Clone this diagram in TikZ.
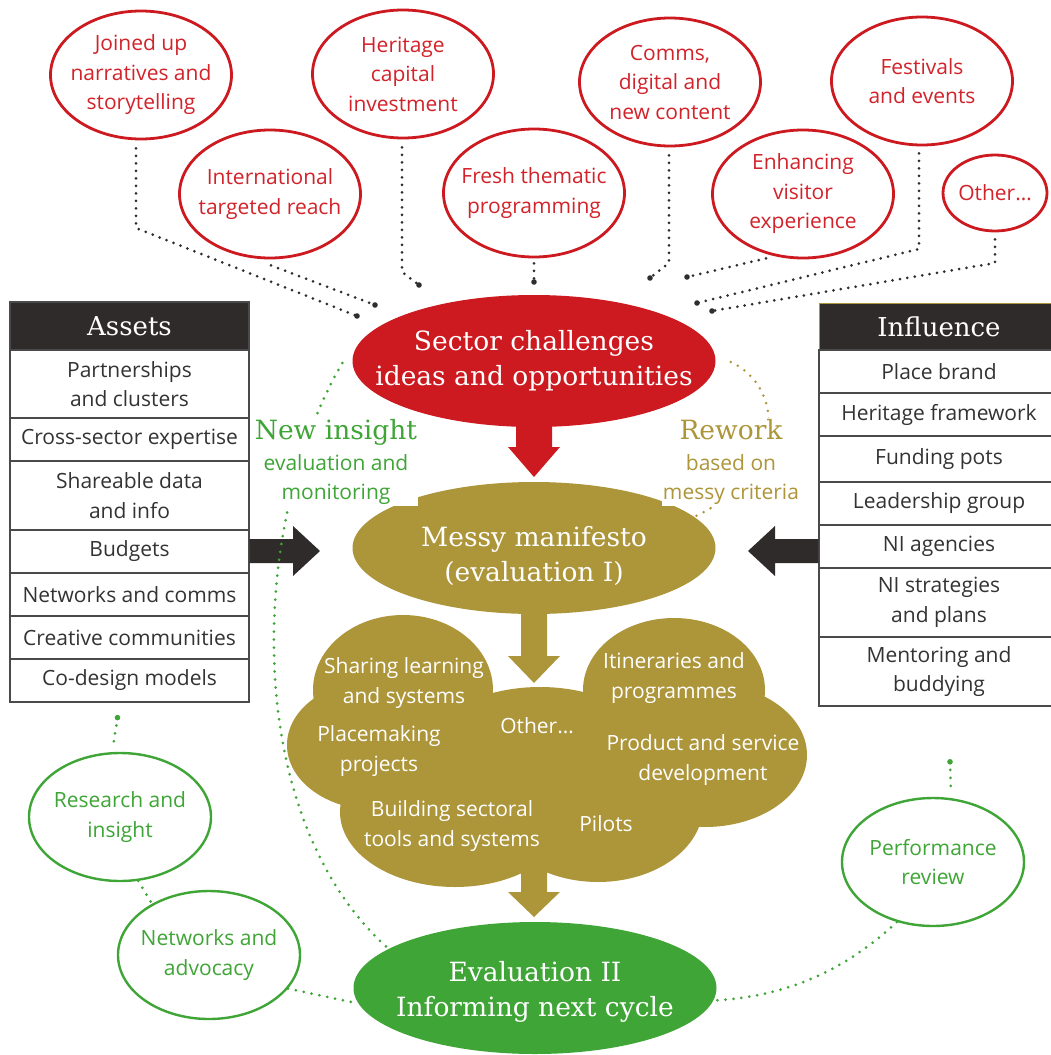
\documentclass[tikz,border=0pt]{standalone}
\usepackage{fontspec}
\setmainfont{Open Sans}
\newfontfamily\slabfam{DejaVu Serif}
\usetikzlibrary{shapes.geometric,calc}
\definecolor{myred}{HTML}{CC1A20}
\definecolor{redtext}{HTML}{D2232A}
\definecolor{mygold}{HTML}{AD953A}
\definecolor{mygreen}{HTML}{3EA536}
\definecolor{mydark}{HTML}{2F2B2A}
\definecolor{textdark}{HTML}{333333}
\definecolor{dotgray}{HTML}{2E2E2E}
\definecolor{cellgray}{HTML}{4A4A4A}
\newcommand\bodyf{\fontsize{21}{29.5}\selectfont}
\newcommand\slabf{\slabfam\fontsize{26.5}{35}\selectfont}
\newcommand\headf{\slabfam\fontsize{26}{30}\selectfont}
% #1 colour, #2 start, #3 tip, #4 shaft half width, #5 head half width, #6 head length
\newcommand\blockdown[6]{\fill[#1] let \p1=(#2), \p2=(#3) in
  (\x2-#4,\y1) -- (\x2+#4,\y1) -- (\x2+#4,\y2+#6) -- (\x2+#5,\y2+#6) -- (\x2,\y2)
  -- (\x2-#5,\y2+#6) -- (\x2-#4,\y2+#6) -- cycle;}
\begin{document}
\begin{tikzpicture}[x=1pt,y=-1pt,
  redell/.style={ellipse, draw=myred, line width=2.8pt, fill=white, text=redtext,
    align=center, inner xsep=-20pt, inner ysep=-8pt, minimum width=181, minimum height=128, font=\bodyf},
  greenell/.style={ellipse, draw=mygreen, line width=2.4pt, fill=white, text=mygreen,
    align=center, inner xsep=-20pt, inner ysep=-8pt, minimum width=182, minimum height=128, font=\bodyf},
  bigell/.style={ellipse, inner xsep=-50pt, inner ysep=-14pt, minimum width=363, minimum height=132,
    text=white, align=center, font=\slabf},
  cell/.style={rectangle, draw=cellgray, line width=1.2pt, fill=white, minimum width=239,
    inner sep=0pt, align=center, text=textdark, font=\bodyf},
  hcell/.style={cell, fill=mydark, text=white, font=\headf},
  cloudtxt/.style={text=white, align=center, font=\bodyf, inner sep=0pt},
  sidelabel/.style={fill=white, align=center, font=\bodyf, inner sep=1pt},
  dotline/.style={draw=dotgray, line width=3pt, line cap=round, dash pattern=on 0pt off 7.5pt},
  gdotline/.style={draw=mygreen, line width=3pt, line cap=round, dash pattern=on 0pt off 8pt},
  odotline/.style={draw=mygold, line width=2.8pt, line cap=round, dash pattern=on 0pt off 8pt}]
\useasboundingbox (0,0) rectangle (1050,1055);

% ---------- cloud ----------
\fill[mygold] (403,690) ellipse (90 and 75);
\fill[mygold] (376,745) ellipse (89 and 65);
\fill[mygold] (455,812) ellipse (115 and 75);
\fill[mygold] (598,806) ellipse (105 and 76);
\fill[mygold] (705,755) ellipse (102 and 72);
\fill[mygold] (674,690) ellipse (91 and 72);
\fill[mygold] (540,775) ellipse (130 and 88);
\node[cloudtxt] (c1) at (404,683) {Sharing learning\\and systems};
\node[cloudtxt] (c2) at (379,751) {Placemaking\\projects};
\node[cloudtxt] (c3) at (537,726) {Other…};
\node[cloudtxt] (c4) at (674,678) {Itineraries and\\programmes};
\node[cloudtxt] (c5) at (703,760) {Product and service\\development};
\node[cloudtxt] (c6) at (452,826) {Building sectoral\\tools and systems};
\node[cloudtxt] (c7) at (606,824) {Pilots};
\coordinate (cloudbase) at (534,860);

% ---------- main ellipses ----------
\node[bigell, fill=myred] (sector) at (534,361) {Sector challenges\\ideas and opportunities};
\node[bigell, fill=mygold] (manifesto) at (534,548) {\rule{0pt}{36pt}Messy manifesto\\(evaluation I)};
\node[bigell, fill=mygreen] (eval) at (535,988) {\rule{0pt}{28pt}Evaluation II\\Informing next cycle};

% ---------- block arrows ----------
\coordinate (redtip) at (534,477);
\coordinate (goldtip1) at (534,683);
\coordinate (goldtip2) at (534,917);
\blockdown{myred}{$(sector.south)+(0,-6)$}{redtip}{18pt}{26pt}{30pt}
\blockdown{mygold}{$(manifesto.south)+(0,-6)$}{goldtip1}{13pt}{26pt}{27pt}
\blockdown{mygold}{cloudbase}{goldtip2}{13pt}{26pt}{25pt}

% ---------- top red ellipses ----------
\node[redell] (joined) at (141,75) {Joined up\\narratives and\\storytelling};
\node[redell] (heritage) at (403,74) {Heritage\\capital\\investment};
\node[redell] (intl) at (270,194) {International\\targeted reach};
\node[redell] (fresh) at (534,193) {Fresh thematic\\programming};
\node[redell] (comms) at (670,82) {Comms,\\digital and\\new content};
\node[redell] (festivals) at (922,81) {Festivals\\and events};
\node[redell] (enhancing) at (803,194) {Enhancing\\visitor\\experience};
\node[redell, minimum width=104, minimum height=76] (other) at (995,193) {Other…};

\coordinate (e1) at (357,316);
\coordinate (e2) at (375,305);
\coordinate (e3) at (419,285);
\coordinate (e4) at (534,282);
\coordinate (e5) at (650,278);
\coordinate (e6) at (687,277);
\coordinate (e7) at (697,303);
\coordinate (e8) at (712,311);
\draw[dotline] ($(joined.south)+(-5,8)$) -- (136,228) -- (e1);
\draw[dotline] ($(intl.south)+(1,6)$) -- (e2);
\draw[dotline] ($(heritage.south)+(-1,8)$) -- (402,272) -- (e3);
\draw[dotline] ($(fresh.south)+(0,5)$) -- (e4);
\draw[dotline] ($(comms.south)+(-1,8)$) -- (669,263) -- (e5);
\draw[dotline] ($(enhancing.south)+(-37,-1)$) -- (e6);
\draw[dotline] ($(festivals.south)+(-3,7)$) -- (919,249) -- (e7);
\draw[dotline] ($(other.south)+(0,7)$) -- (995,263) -- (e8);
\foreach \e in {e1,e2,e3,e4,e5,e6,e7,e8} \fill[dotgray] (\e) circle (2.8);

% ---------- Assets table ----------
\node[hcell, minimum height=48] (a0) at (129.5,326) {Assets};
\node[cell, minimum height=68] (a1) at (129.5,384) {Partnerships\\and clusters};
\node[cell, minimum height=43] (a2) at (129.5,439.5) {Cross-sector expertise};
\node[cell, minimum height=69] (a3) at (129.5,495.5) {Shareable data\\and info};
\node[cell, minimum height=43] (a4) at (129.5,551.5) {Budgets};
\node[cell, minimum height=43] (a5) at (129.5,594.5) {Networks and comms};
\node[cell, minimum height=43] (a6) at (129.5,637.5) {Creative communities};
\node[cell, minimum height=43] (a7) at (129.5,680.5) {Co-design models};

% ---------- Influence table ----------
\node[hcell, draw=mygold, line width=1pt, minimum width=240, minimum height=47] (i0) at (939,326.5) {Influence};
\node[cell, minimum width=240, minimum height=43] (i1) at (939,371.5) {Place brand};
\node[cell, minimum width=240, minimum height=43] (i2) at (939,414.5) {Heritage framework};
\node[cell, minimum width=240, minimum height=46] (i3) at (939,459) {Funding pots};
\node[cell, minimum width=240, minimum height=43] (i4) at (939,503.5) {Leadership group};
\node[cell, minimum width=240, minimum height=43] (i5) at (939,546.5) {NI agencies};
\node[cell, minimum width=240, minimum height=69] (i6) at (939,602.5) {NI strategies\\and plans};
\node[cell, minimum width=240, minimum height=69] (i7) at (939,671.5) {Mentoring and\\buddying};

% ---------- black arrows ----------
\coordinate (lefttip) at (320,551);
\coordinate (righttip) at (748,551);
\fill[mydark] let \p1=(a4.east), \p2=(lefttip) in
  (\x1,\y2+12pt) -- (\x2-27pt,\y2+12pt) -- (\x2-27pt,\y2+25pt) -- (\x2,\y2)
  -- (\x2-27pt,\y2-25pt) -- (\x2-27pt,\y2-12pt) -- (\x1,\y2-12pt) -- cycle;
\fill[mydark] let \p1=(i5.west), \p2=(righttip) in
  (\x1,\y2+12pt) -- (\x2+27pt,\y2+12pt) -- (\x2+27pt,\y2+25pt) -- (\x2,\y2)
  -- (\x2+27pt,\y2-25pt) -- (\x2+27pt,\y2-12pt) -- (\x1,\y2-12pt) -- cycle;

% ---------- green ellipses ----------
\node[greenell] (research) at (120,817) {Research and\\insight};
\node[greenell] (networks) at (209,955) {Networks and\\advocacy};
\node[greenell] (perf) at (933,862) {Performance\\review};

\coordinate (g1) at ($(a7.south)+(-12,15)$);
\draw[gdotline] (g1) -- ($(research.north)+(-7,-5)$);
\fill[mygreen] (g1) circle (2.8);
\draw[gdotline] (research.-74) -- (networks.138);
\draw[gdotline] (networks.-23) -- (eval.185);
\coordinate (g2) at ($(perf.north)+(17,-35)$);
\draw[gdotline] (g2) -- ($(perf.north)+(18,-4)$);
\fill[mygreen] (g2) circle (2.8);
\draw[gdotline] (perf.-121) .. controls (840,975) and (780,997) .. (eval.-4);

% ---------- feedback arcs ----------
\draw[gdotline] ($(sector.west)+(-10,2)$) .. controls (250,520) and (238,815) .. (eval.165);
\draw[odotline] ($(sector.east)+(15,1)$) .. controls (782,385) and (792,470) .. (manifesto.11);
\node[sidelabel, text=mygreen] (newinsight) at (336,462) {{\slabf New insight}\\[1pt]evaluation and\\monitoring};
\node[sidelabel, text=mygold] (rework) at (731,462) {{\slabf Rework}\\[1pt]based on\\messy criteria};
\end{tikzpicture}
\end{document}
